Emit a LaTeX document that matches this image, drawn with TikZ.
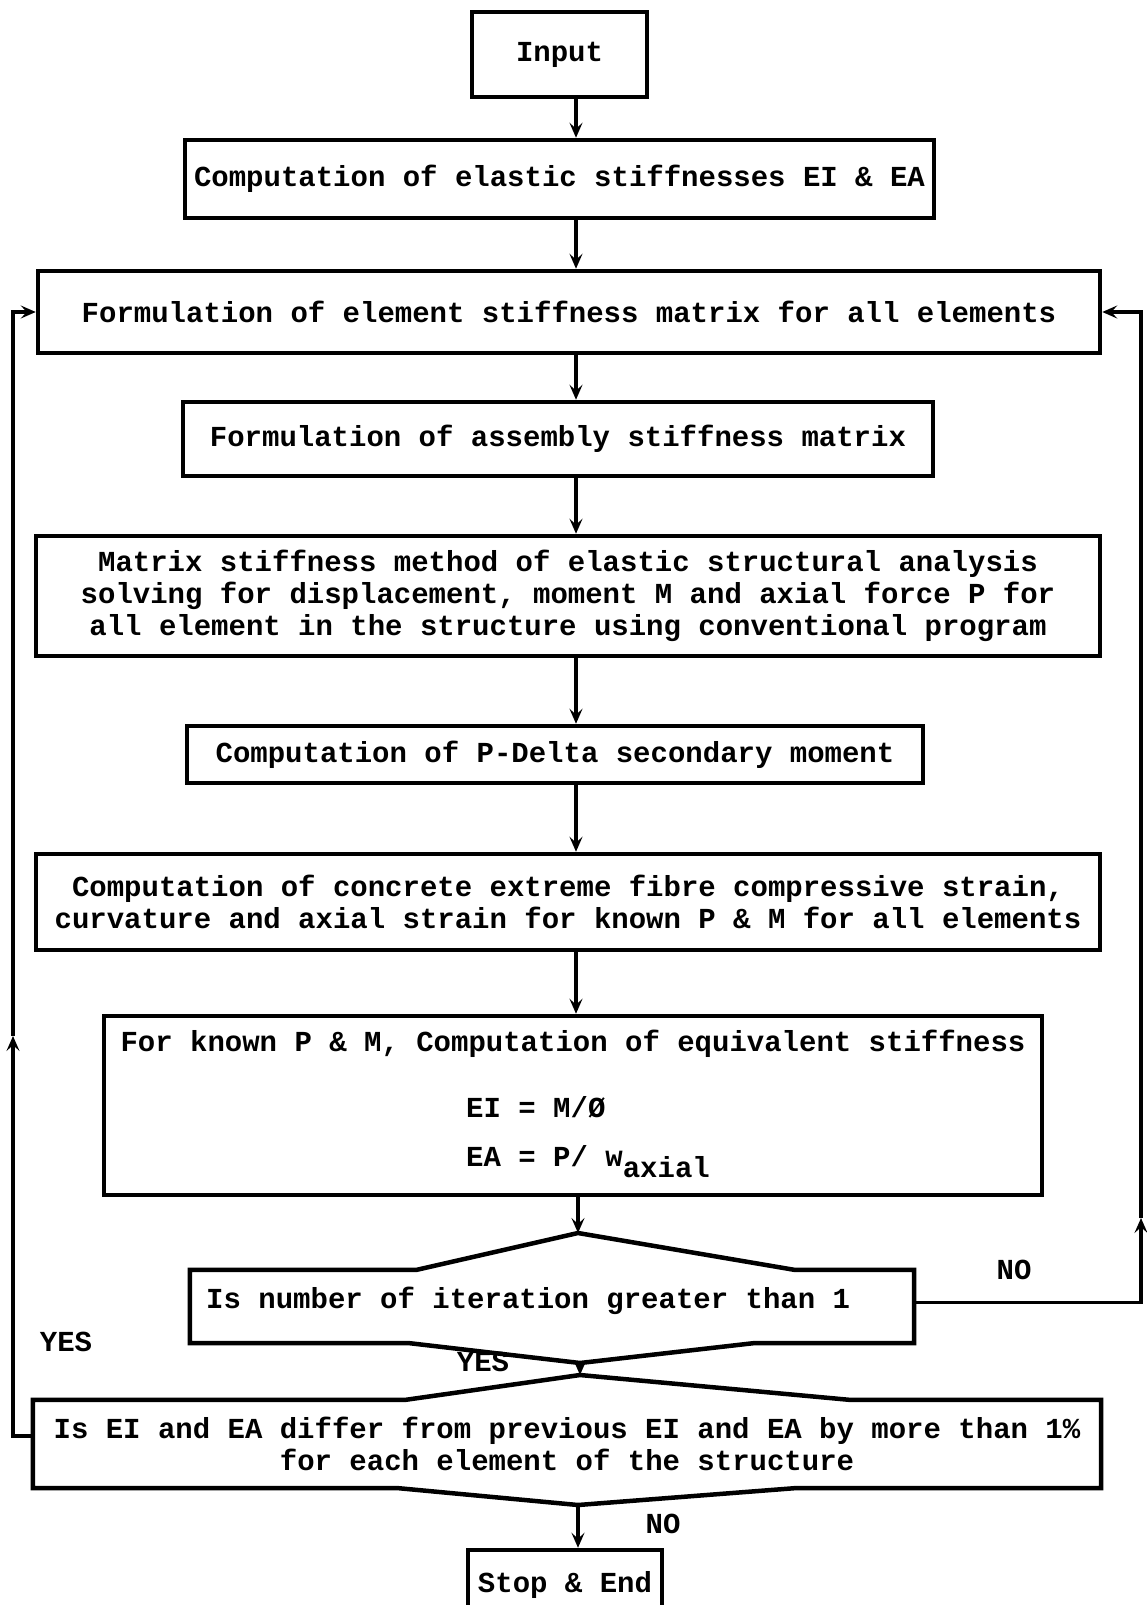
\documentclass[tikz,border=0pt]{standalone}
\usepackage{fontspec}
\setmonofont{Liberation Mono}
\usetikzlibrary{arrows.meta,calc}

\begin{document}
\begin{tikzpicture}[x=1pt, y=-1pt,
    every node/.style={font=\ttfamily\bfseries\fontsize{29}{32}\selectfont},
    procbox/.style={draw, line width=4.5pt, align=center, inner sep=0pt},
    decnode/.style={inner sep=0pt},
    boxline/.style={line width=4.5pt, line join=miter},
    link/.style={line width=3.6pt, -{Stealth[length=15pt,width=13pt,inset=6pt]}},
    tag/.style={inner sep=0pt}]
    % Page size
    \useasboundingbox (0,0) rectangle (1147,1605);

    % Process boxes
    \node[procbox, minimum width=175pt, minimum height=85pt] (in) at (559.5,54.5) {Input};
    \node[procbox, minimum width=749pt, minimum height=78pt] (b2) at (559.5,179) {Computation of elastic stiffnesses EI \& EA};
    \node[procbox, minimum width=1062pt, minimum height=82pt] (b3) at (569,312) {Formulation of element stiffness matrix for all elements};
    \node[procbox, minimum width=750pt, minimum height=74pt] (b4) at (558,439) {Formulation of assembly stiffness matrix};
    \node[procbox, minimum width=1064pt, minimum height=120pt] (b5) at (568,596) {Matrix stiffness method of elastic structural analysis\\solving for displacement, moment M and axial force P for\\all element in the structure using conventional program};
    \node[procbox, minimum width=736pt, minimum height=57pt] (b6) at (555,754.5) {Computation of P-Delta secondary moment};
    \node[procbox, minimum width=1064pt, minimum height=96pt] (b7) at (568,902) {Computation of concrete extreme fibre compressive strain,\\curvature and axial strain for known P \& M for all elements};
    \node[procbox, minimum width=938pt, minimum height=179pt] (b8) at (573,1105.5) {};
    \node[tag] (b8t) at (573,1044) {For known P \& M, Computation of equivalent stiffness};
    \node[tag, anchor=base west] (b8ei) at (466,1117) {EI = M/Ø};
    \node[tag, anchor=base west] (b8ea) at (466,1166) {EA = P/ w\raisebox{-0.4em}{axial}};

    % Decision boxes
    \node[decnode, minimum width=724pt, minimum height=73pt] (d1) at (552,1306.5) {};
    \node[tag, anchor=west] (d1t) at (206,1301) {Is number of iteration greater than 1};
    \coordinate (d1top) at (578,1233);
    \coordinate (d1bot) at (580,1363);
    \draw[boxline] (d1.north west) -- ([xshift=227pt]d1.north west) -- (d1top)
        -- ([xshift=-120pt]d1.north east) -- (d1.north east) -- (d1.south east)
        -- ([xshift=-161pt]d1.south east) -- (d1bot) -- ([xshift=220pt]d1.south west)
        -- (d1.south west) -- cycle;

    \node[decnode, minimum width=1068pt, minimum height=88pt, align=center] (d2) at (567,1444) {Is EI and EA differ from previous EI and EA by more than 1\%\\for each element of the structure};
    \coordinate (d2top) at (580,1375);
    \coordinate (d2bot) at (578,1505);
    \draw[boxline] (d2.north west) -- ([xshift=373pt]d2.north west) -- (d2top)
        -- ([xshift=-252pt]d2.north east) -- (d2.north east) -- (d2.south east)
        -- ([xshift=-307pt]d2.south east) -- (d2bot) -- ([xshift=366pt]d2.south west)
        -- (d2.south west) -- cycle;

    \node[procbox, minimum width=194pt, minimum height=70pt] (stop) at (565,1585) {Stop \& End};

    % Labels
    \node[tag] (no1) at (1014,1270) {NO};
    \node[tag] (yes1) at (66,1342) {YES};
    \node[tag] (yes2) at (483,1362) {YES};
    \node[tag] (no2) at (663,1524) {NO};

    % Main flow
    \coordinate (flow) at (576,0);
    \foreach \from/\to in {in/b2, b2/b3, b3/b4, b4/b5, b5/b6, b6/b7, b7/b8} {
            \draw[link] (\from.south -| flow) -- (\to.north -| flow);
        }
    \draw[link] (b8.south -| d1top) -- (d1top);
    \draw[link] (d1bot) -- (d2top);
    \draw[link] (d2bot) -- (d2bot |- stop.north);

    % Feedback loops
    \coordinate (lup) at (13,1036);
    \coordinate (rup) at (1141,1218);
    \draw[link] ([yshift=8pt]d2.west) -| (lup);
    \draw[link] (lup) |- (b3.west);
    \draw[link] ([yshift=4pt]d1.east) -| (rup);
    \draw[link] (rup) |- (b3.east);
\end{tikzpicture}
\end{document}
